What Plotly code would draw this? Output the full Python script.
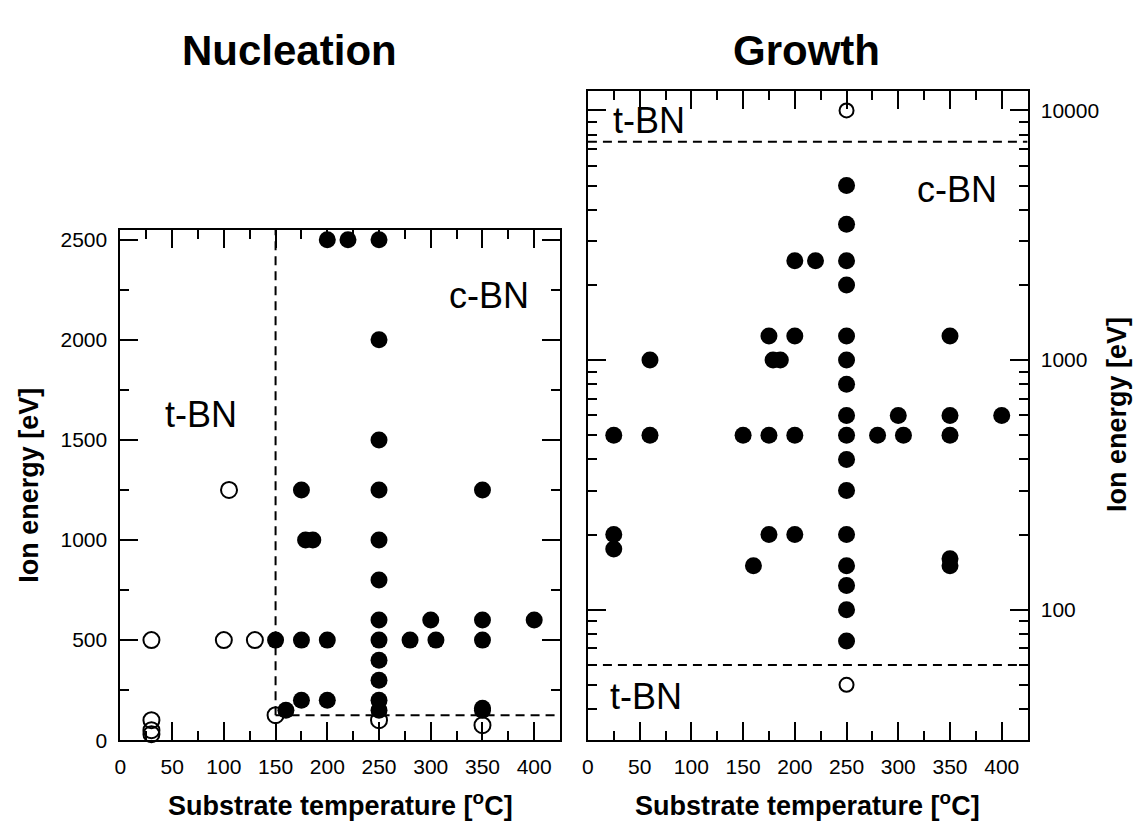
import math
import plotly.graph_objects as go

# Nucleation: substrate temperature [°C] vs ion energy [eV]
nuc_tbn_temp = [30, 30, 30, 30, 100, 105, 130, 150, 250, 350]
nuc_tbn_energy = [500, 100, 50, 30, 500, 1250, 500, 125, 100, 75]

nuc_cbn_temp = [150, 160, 175, 175, 175, 179, 186, 200, 200, 200, 220,
                250, 250, 250, 250, 250, 250, 250, 250, 250, 250, 250, 250,
                280, 300, 305, 350, 350, 350, 350, 350, 400]
nuc_cbn_energy = [500, 150, 1250, 500, 200, 1000, 1000, 2500, 500, 200, 2500,
                  2500, 2000, 1500, 1250, 1000, 800, 600, 500, 400, 300, 200, 150,
                  500, 600, 500, 1250, 600, 500, 160, 150, 600]

# Growth: substrate temperature [°C] vs ion energy [eV] (log scale)
gro_tbn_temp = [250, 250]
gro_tbn_energy = [10000, 50]

gro_cbn_temp = [25, 25, 25, 60, 60, 150, 160, 175, 175, 175, 179, 186,
                200, 200, 200, 200, 220,
                250, 250, 250, 250, 250, 250, 250, 250, 250, 250, 250, 250,
                250, 250, 250, 250,
                280, 300, 305, 350, 350, 350, 350, 350, 400]
gro_cbn_energy = [500, 200, 175, 1000, 500, 500, 150, 1250, 500, 200, 1000, 1000,
                  2500, 1250, 500, 200, 2500,
                  5000, 3500, 2500, 2000, 1250, 1000, 800, 600, 500, 400, 300, 200,
                  150, 125, 100, 75,
                  500, 600, 500, 1250, 600, 500, 160, 150, 600]

# Phase boundaries
nuc_temp_boundary = 150
nuc_energy_boundary = 125
gro_energy_upper = 7500
gro_energy_lower = 60

temp_ticks = [0, 50, 100, 150, 200, 250, 300, 350, 400]
nuc_energy_ticks = [0, 500, 1000, 1500, 2000, 2500]
gro_energy_ticks = [100, 1000, 10000]
gro_energy_minor = [30, 40, 50, 60, 70, 80, 90,
                    200, 300, 400, 500, 600, 700, 800, 900,
                    2000, 3000, 4000, 5000, 6000, 7000, 8000, 9000]

X_MAX = 425
NUC_Y_MAX = 2550
GRO_Y_RANGE = [30, 12000]

FONT = "Liberation Sans, Arial, sans-serif"
W, H = 1137, 835

fig = go.Figure()

filled = dict(symbol="circle", size=17, color="black", line=dict(width=0))
hollow = dict(symbol="circle-open", size=16, color="black", line=dict(width=2, color="black"))
hollow_small = dict(symbol="circle-open", size=14, color="black", line=dict(width=2, color="black"))
dash_line = dict(color="black", width=2, dash="9px,6px")

# Nucleation panel
fig.add_trace(go.Scatter(x=[nuc_temp_boundary, nuc_temp_boundary],
                         y=[nuc_energy_boundary, NUC_Y_MAX], mode="lines",
                         line=dash_line, xaxis="x", yaxis="y", hoverinfo="skip"))
fig.add_trace(go.Scatter(x=[nuc_temp_boundary, X_MAX],
                         y=[nuc_energy_boundary, nuc_energy_boundary], mode="lines",
                         line=dash_line, xaxis="x", yaxis="y", hoverinfo="skip"))
fig.add_trace(go.Scatter(x=nuc_cbn_temp, y=nuc_cbn_energy, mode="markers",
                         marker=filled, xaxis="x", yaxis="y", cliponaxis=False))
fig.add_trace(go.Scatter(x=nuc_tbn_temp, y=nuc_tbn_energy, mode="markers",
                         marker=hollow, xaxis="x", yaxis="y", cliponaxis=False))

# Growth panel
for level in (gro_energy_upper, gro_energy_lower):
    fig.add_trace(go.Scatter(x=[0, X_MAX], y=[level, level], mode="lines",
                             line=dash_line, xaxis="x2", yaxis="y2", hoverinfo="skip"))
fig.add_trace(go.Scatter(x=gro_cbn_temp, y=gro_cbn_energy, mode="markers",
                         marker=filled, xaxis="x2", yaxis="y2", cliponaxis=False))
fig.add_trace(go.Scatter(x=gro_tbn_temp, y=gro_tbn_energy, mode="markers",
                         marker=hollow_small, xaxis="x2", yaxis="y2", cliponaxis=False))

tickfont = dict(family=FONT, size=21, color="black")
common_axis = dict(showgrid=False, zeroline=False, showline=True, linewidth=2,
                   linecolor="black", mirror="ticks", ticks="inside", ticklen=18,
                   tickwidth=1.5, tickcolor="black", tickfont=tickfont,
                   ticklabelstandoff=7)

x_axis = dict(common_axis, range=[0, X_MAX], tickmode="array", tickvals=temp_ticks,
              minor=dict(ticks="inside", ticklen=9, tickwidth=1.5, tickcolor="black",
                         tick0=0, dtick=25))

def px_x(p):
    return p / W

def px_y(p):
    return 1 - p / H

fig.update_layout(
    width=W, height=H,
    margin=dict(l=0, r=0, t=0, b=0),
    paper_bgcolor="white", plot_bgcolor="white",
    showlegend=False,
    xaxis=dict(x_axis, domain=[px_x(115), px_x(557)], anchor="y"),
    yaxis=dict(common_axis, domain=[px_y(750), px_y(232)], anchor="x",
               range=[0, NUC_Y_MAX], tickmode="array", tickvals=nuc_energy_ticks,
               minor=dict(ticks="inside", ticklen=9, tickwidth=1.5, tickcolor="black",
                          tick0=0, dtick=250)),
    xaxis2=dict(x_axis, domain=[px_x(585), px_x(1027)], anchor="y2"),
    yaxis2=dict(common_axis, domain=[px_y(750), px_y(91)], anchor="x2", side="right",
                type="log", range=[math.log10(GRO_Y_RANGE[0]), math.log10(GRO_Y_RANGE[1])],
                tickmode="array", tickvals=gro_energy_ticks,
                ticktext=[str(v) for v in gro_energy_ticks],
                minor=dict(ticks="inside", ticklen=9, tickwidth=1.5, tickcolor="black",
                           tickmode="array", tickvals=gro_energy_minor)),
)

label_font = dict(family=FONT, size=36, color="black")
phase_labels = [
    ("x", "y", 78, 1626, "t-BN"),
    ("x", "y", 356, 2220, "c-BN"),
    ("x2", "y2", 59, math.log10(9130), "t-BN"),
    ("x2", "y2", 357, math.log10(4830), "c-BN"),
    ("x2", "y2", 56, math.log10(45), "t-BN"),
]
for xa, ya, xv, yv, txt in phase_labels:
    fig.add_annotation(x=xv, y=yv, xref=xa, yref=ya, text=txt, showarrow=False,
                       font=label_font, xanchor="center", yanchor="middle")

title_font = dict(family=FONT, size=42, color="black")
axis_title_font = dict(family=FONT, size=27, color="black")
paper_texts = [
    (285, 50, "<b>Nucleation</b>", title_font, 0),
    (805, 50, "<b>Growth</b>", title_font, 0),
    (336, 815, "<b>Substrate temperature [<sup>o</sup>C]</b>", axis_title_font, 0),
    (806, 815, "<b>Substrate temperature [<sup>o</sup>C]</b>", axis_title_font, 0),
    (23, 491, "<b>Ion energy [eV]</b>", axis_title_font, -90),
    (1117, 420, "<b>Ion energy [eV]</b>", axis_title_font, -90),
]
for xp, yp, txt, fnt, ang in paper_texts:
    fig.add_annotation(x=px_x(xp), y=px_y(yp), xref="paper", yref="paper", text=txt,
                       showarrow=False, font=fnt, textangle=ang,
                       xanchor="center", yanchor="middle")

fig.write_html("out.html")
